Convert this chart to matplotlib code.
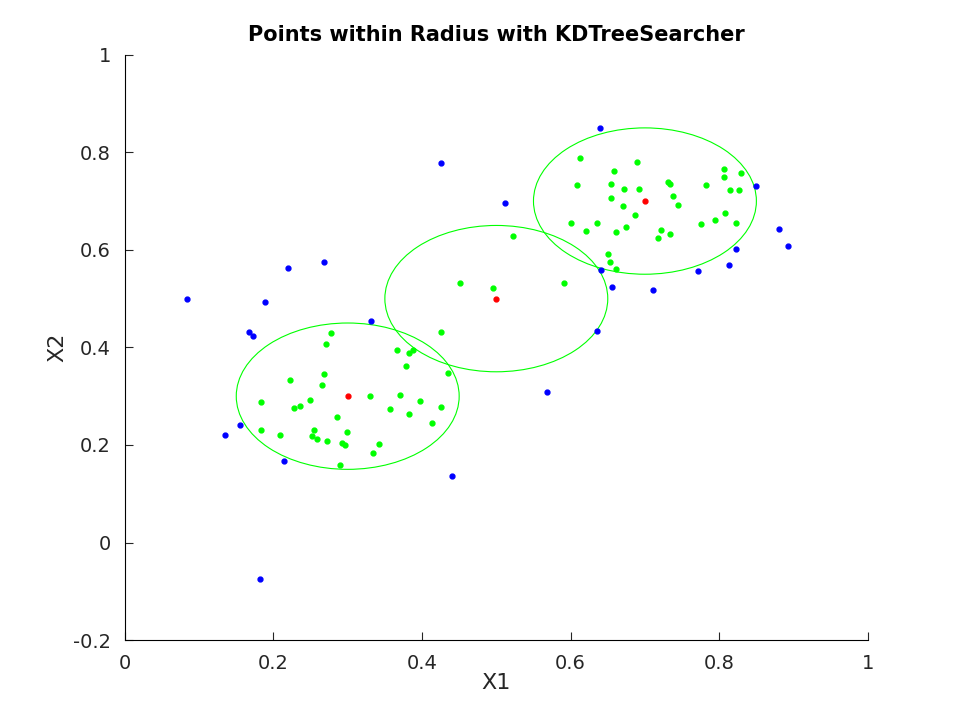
import numpy as np
import matplotlib
matplotlib.use("Agg")
import matplotlib.pyplot as plt
from matplotlib.patches import Circle

# query points and search radius
centers_x = [0.3, 0.5, 0.7]
centers_y = [0.3, 0.5, 0.7]
radius = 0.15

# points found within radius
in_x = [0.278, 0.271, 0.367, 0.383, 0.388, 0.378, 0.435, 0.223, 0.268, 0.266,
        0.183, 0.249, 0.228, 0.236, 0.330, 0.371, 0.397, 0.426, 0.357, 0.382,
        0.285, 0.414, 0.183, 0.209, 0.254, 0.252, 0.259, 0.272, 0.299, 0.292,
        0.297, 0.342, 0.334, 0.289,
        0.522, 0.451, 0.496, 0.591, 0.425,
        0.613, 0.690, 0.659, 0.608, 0.655, 0.672, 0.692, 0.654, 0.670, 0.687,
        0.731, 0.734, 0.738, 0.744, 0.782, 0.807, 0.806, 0.829, 0.814, 0.826,
        0.808, 0.794, 0.775, 0.823, 0.601, 0.635, 0.621, 0.661, 0.674, 0.721,
        0.734, 0.717, 0.650, 0.653, 0.661]
in_y = [0.430, 0.406, 0.394, 0.388, 0.395, 0.362, 0.348, 0.333, 0.346, 0.322,
        0.289, 0.293, 0.275, 0.279, 0.300, 0.302, 0.290, 0.278, 0.273, 0.264,
        0.257, 0.245, 0.231, 0.220, 0.230, 0.219, 0.213, 0.209, 0.227, 0.204,
        0.200, 0.201, 0.183, 0.159,
        0.629, 0.533, 0.521, 0.533, 0.432,
        0.789, 0.780, 0.762, 0.733, 0.734, 0.724, 0.725, 0.707, 0.689, 0.671,
        0.740, 0.734, 0.710, 0.691, 0.732, 0.765, 0.749, 0.758, 0.723, 0.723,
        0.675, 0.661, 0.652, 0.655, 0.655, 0.656, 0.639, 0.637, 0.646, 0.641,
        0.632, 0.624, 0.591, 0.576, 0.561]

# remaining points
out_x = [0.220, 0.268, 0.084, 0.189, 0.167, 0.173, 0.332, 0.155, 0.135, 0.214,
         0.440, 0.182, 0.425, 0.512, 0.640, 0.656, 0.635, 0.568, 0.641, 0.880,
         0.892, 0.823, 0.813, 0.772, 0.711, 0.849]
out_y = [0.563, 0.575, 0.500, 0.494, 0.432, 0.423, 0.455, 0.240, 0.221, 0.167,
         0.137, -0.075, 0.778, 0.695, 0.850, 0.523, 0.434, 0.309, 0.559, 0.643,
         0.608, 0.601, 0.569, 0.557, 0.518, 0.731]

fig = plt.figure(figsize=(9.6, 7.2), dpi=100)
ax = fig.add_axes([0.130, 0.111, 0.774, 0.813])

ax.plot(out_x, out_y, '.', color='blue', markersize=7)
ax.plot(in_x, in_y, '.', color='#00ff00', markersize=7)
ax.plot(centers_x, centers_y, '.', color='red', markersize=7)
for cx, cy in zip(centers_x, centers_y):
    ax.add_patch(Circle((cx, cy), radius, fill=False, edgecolor='#00ff00', linewidth=0.8))

ax.set_xlim(0, 1)
ax.set_ylim(-0.2, 1)
ax.set_xticks([0, 0.2, 0.4, 0.6, 0.8, 1])
ax.set_xticklabels(['0', '0.2', '0.4', '0.6', '0.8', '1'])
ax.set_yticks([-0.2, 0, 0.2, 0.4, 0.6, 0.8, 1])
ax.set_yticklabels(['-0.2', '0', '0.2', '0.4', '0.6', '0.8', '1'])
ax.spines['top'].set_visible(False)
ax.spines['right'].set_visible(False)
ax.tick_params(direction='in', labelsize=14, length=6, pad=10, color='#262626', labelcolor='#262626')
ax.set_xlabel('X1', fontsize=16, color='#262626', labelpad=0)
ax.set_ylabel('X2', fontsize=16, color='#262626', labelpad=4)
ax.set_title('Points within Radius with KDTreeSearcher', fontsize=15, fontweight='bold', pad=10)

fig.savefig('out.png', dpi=100)
